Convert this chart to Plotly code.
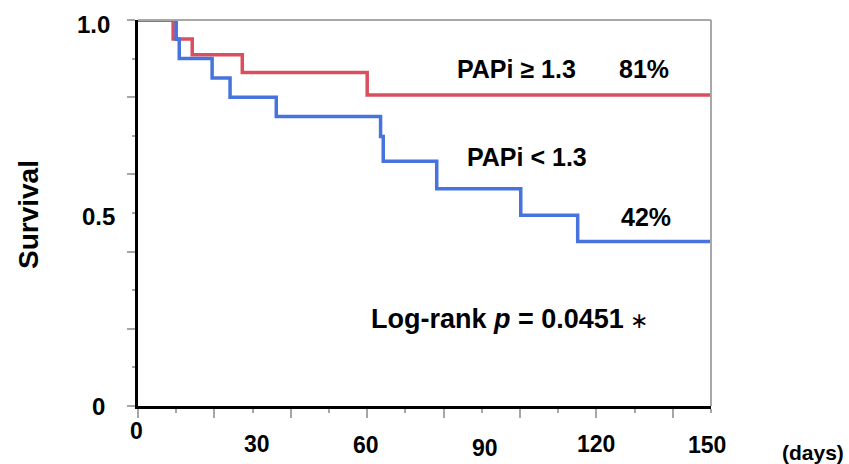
import plotly.graph_objects as go

# ---- data ----
high_days = [0, 9.2, 14.2, 27.3, 60.0, 150]
high_surv = [1.0, 0.951, 0.910, 0.864, 0.806, 0.806]

low_days = [0, 10.0, 10.8, 19.4, 24.1, 36.2, 63.5, 64.2, 78.2, 100.2, 115.1, 150]
low_surv = [1.0, 0.95, 0.90, 0.85, 0.80, 0.75, 0.698, 0.634, 0.563, 0.494, 0.426, 0.426]

x_tick_vals = [0, 30, 60, 90, 120, 150]
x_tick_text = ["0", "30", "60", "90", "120", "150"]
y_tick_vals = [0, 0.5, 1.0]
y_tick_text = ["0", "0.5", "1.0"]

# ---- style ----
RED = "#DA4F5D"
BLUE = "#4773DE"
FONT = "Arial, Liberation Sans, sans-serif"
x_label_yshift = [-25, -38, -39, -42, -38, -39]
x_label_xshift = [-2, 4, -1, 3, 0, -4]
y_label_xshift = [-31, -21, -26]
y_label_yshift = [0, -3, -4]

fig = go.Figure()
fig.add_trace(go.Scatter(x=high_days, y=high_surv, mode="lines", line_shape="hv",
                         line=dict(color=RED, width=3.5), showlegend=False))
fig.add_trace(go.Scatter(x=low_days, y=low_surv, mode="lines", line_shape="hv",
                         line=dict(color=BLUE, width=3.5), showlegend=False))

tick_grey = "#A6A6A6"
fig.update_xaxes(range=[0, 150], showgrid=False, zeroline=False, showticklabels=False,
                 showline=True, linecolor="black", linewidth=3,
                 ticks="outside", dtick=20, tick0=0, ticklen=9, tickwidth=2, tickcolor=tick_grey,
                 minor=dict(dtick=10, ticks="outside", ticklen=4, tickwidth=2, tickcolor=tick_grey))
fig.update_yaxes(range=[0, 1], showgrid=False, zeroline=False, showticklabels=False,
                 showline=True, linecolor="black", linewidth=3,
                 ticks="outside", dtick=0.2, tick0=0, ticklen=8, tickwidth=2, tickcolor=tick_grey,
                 minor=dict(dtick=0.1, ticks="outside", ticklen=3, tickwidth=2, tickcolor=tick_grey))

# grey top and right border
fig.add_shape(type="line", xref="paper", yref="paper", x0=0, x1=1, y0=1, y1=1,
              line=dict(color="#A8A8A8", width=2))
fig.add_shape(type="line", xref="paper", yref="paper", x0=1, x1=1, y0=0, y1=1,
              line=dict(color="#A8A8A8", width=2))

ann = []
for v, t, dy, dx in zip(x_tick_vals, x_tick_text, x_label_yshift, x_label_xshift):
    ann.append(dict(x=v, y=0, xref="x", yref="paper", text=f"<b>{t}</b>", showarrow=False,
                    xanchor="center", yanchor="middle", yshift=dy, xshift=dx,
                    font=dict(size=23, color="black", family=FONT)))
for v, t, dx, dy in zip(y_tick_vals, y_tick_text, y_label_xshift, y_label_yshift):
    ann.append(dict(x=0, y=v, xref="paper", yref="y", text=f"<b>{t}</b>", showarrow=False,
                    xanchor="right", yanchor="middle", xshift=dx, yshift=dy,
                    font=dict(size=24, color="black", family=FONT)))
ann.append(dict(x=0, y=0.5, xref="paper", yref="paper", text="<b>Survival</b>", showarrow=False,
                textangle=-90, xanchor="center", yanchor="middle", xshift=-110, yshift=-2,
                font=dict(size=28, color="black", family=FONT)))
ann.append(dict(x=1, y=0, xref="paper", yref="paper", text="<b>(days)</b>", showarrow=False,
                xanchor="center", yanchor="middle", xshift=102, yshift=-46,
                font=dict(size=21, color="black", family=FONT)))
ann.append(dict(x=99.1, y=0.873, xref="x", yref="y", text="<b>PAPi ≥ 1.3</b>", showarrow=False,
                xanchor="center", yanchor="middle", font=dict(size=25, color="black", family=FONT)))
ann.append(dict(x=132.4, y=0.873, xref="x", yref="y", text="<b>81%</b>", showarrow=False,
                xanchor="center", yanchor="middle", font=dict(size=25, color="black", family=FONT)))
ann.append(dict(x=101.9, y=0.645, xref="x", yref="y", text="<b>PAPi < 1.3</b>", showarrow=False,
                xanchor="center", yanchor="middle", font=dict(size=25, color="black", family=FONT)))
ann.append(dict(x=133.0, y=0.49, xref="x", yref="y", text="<b>42%</b>", showarrow=False,
                xanchor="center", yanchor="middle", font=dict(size=25, color="black", family=FONT)))
ann.append(dict(x=60.6, y=0.225, xref="x", yref="y",
                text="<b>Log-rank <i>p</i> = 0.0451</b><span style='font-size:22px'> ∗</span>",
                showarrow=False, xanchor="left", yanchor="middle",
                font=dict(size=27, color="black", family=FONT)))

fig.update_layout(width=849, height=464, margin=dict(l=138, r=138, t=20, b=58),
                  plot_bgcolor="white", paper_bgcolor="white", annotations=ann)

fig.write_html("out.html", config={"displayModeBar": False},
               post_script="document.body.style.margin='0';document.body.style.overflow='hidden';")
